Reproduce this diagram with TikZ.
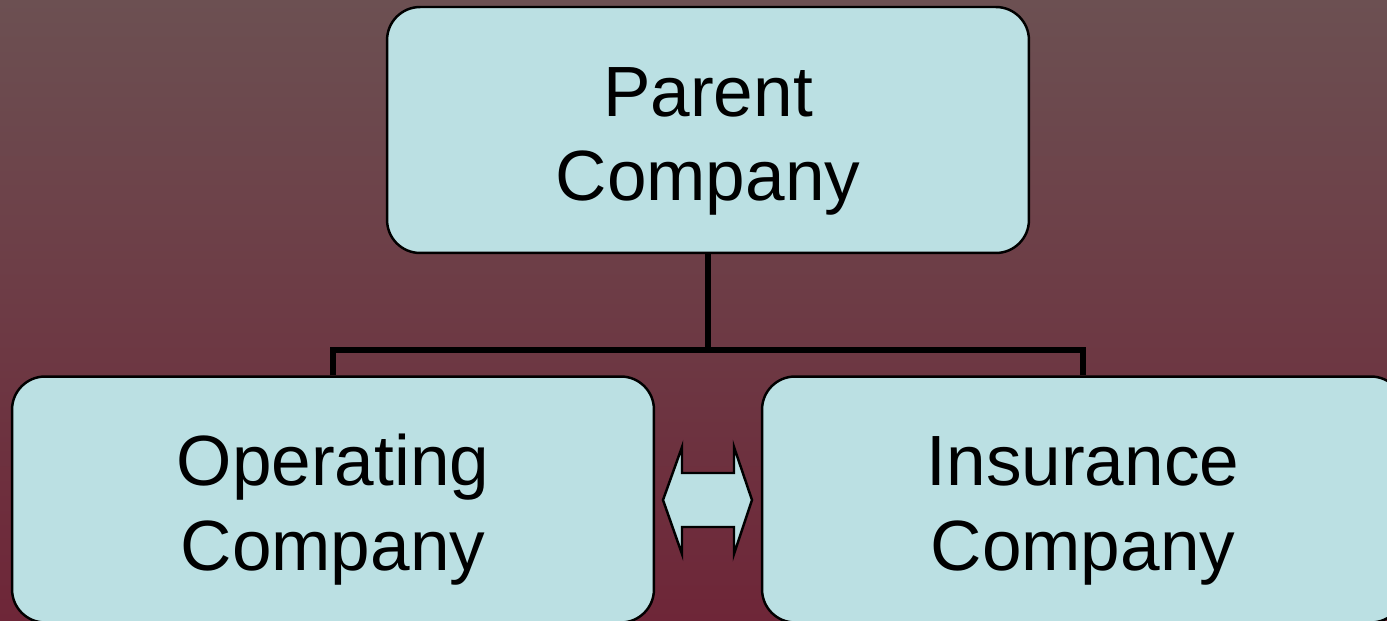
\documentclass[tikz,border=0pt]{standalone}
\usepackage{fontspec}
\setmainfont{Liberation Sans}
\usepackage{tikz}
\usetikzlibrary{positioning}
\definecolor{bgtop}{RGB}{108,80,82}
\definecolor{bgbottom}{RGB}{110,38,56}
\definecolor{boxfill}{RGB}{187,224,227}

\begin{document}
\begin{tikzpicture}[x=0.02cm, y=-0.02cm,
        box/.style={draw=black, line width=1.4pt, fill=boxfill, rounded corners=0.66cm,
            minimum width=12.84cm, minimum height=4.92cm, inner sep=0pt,
            align=center, font=\fontsize{40.5}{48.3}\selectfont,
            text height=2.84cm, text depth=0cm},
        link/.style={line width=3.4pt}]
        % Background
        \shade[top color=bgtop, bottom color=bgbottom] (0,0) rectangle (1387,621);
        \useasboundingbox (0,0) rectangle (1387,621);
        \clip (0,0) rectangle (1387,621);

        % Boxes
        \node[box] (parent) at (708,130) {Parent\\Company};
        \node[box] (oper) at (333,499.5) {Operating\\Company};
        \node[box] (insur) at (1083,499.5) {Insurance\\Company};

        % Tree lines
        \coordinate (bus) at (708,350);
        \draw[link] (parent.south) -- (bus);
        \draw[link] (oper.north) |- (bus) -| (insur.north);

        % Double arrow
        \draw[line width=1.4pt, fill=boxfill] (663,500) -- (682,447) -- (682,473) -- (734,473)
            -- (734,447) -- (752,500) -- (734,554) -- (734,527) -- (682,527) -- (682,554) -- cycle;
    \end{tikzpicture}
\end{document}
